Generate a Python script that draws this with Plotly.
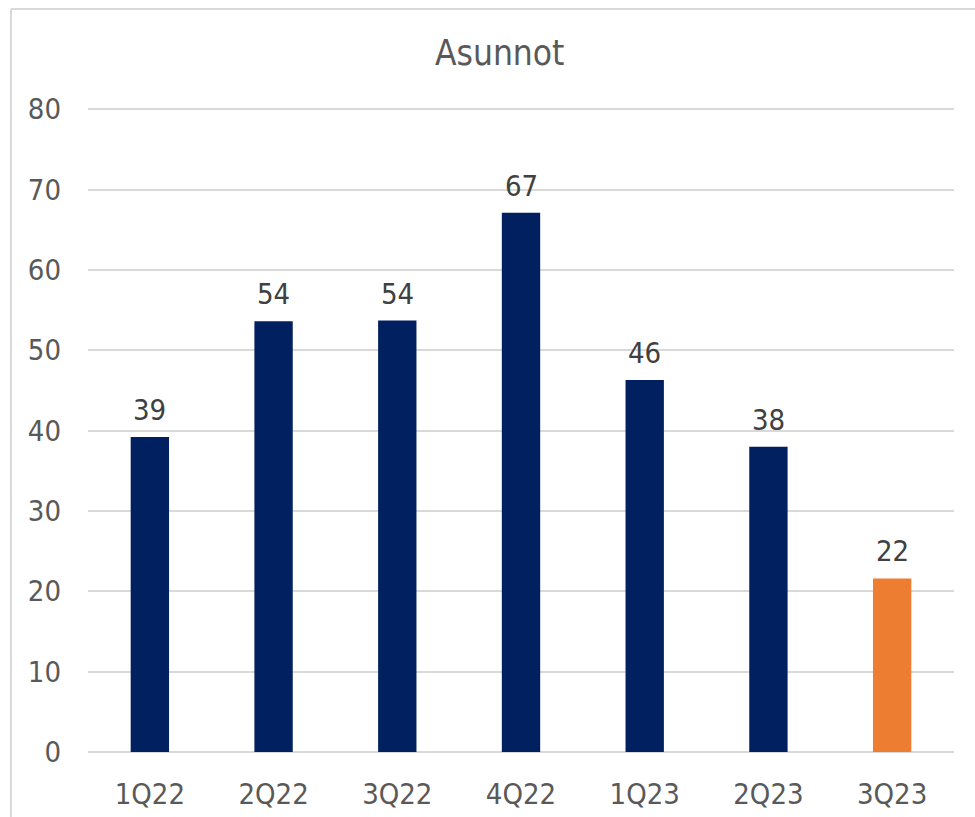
import plotly.graph_objects as go

categories = ["1Q22", "2Q22", "3Q22", "4Q22", "1Q23", "2Q23", "3Q23"]
values = [39.2, 53.6, 53.7, 67.1, 46.3, 38.0, 21.6]
bar_colors = ["#002060"] * 6 + ["#ED7D31"]
y_ticks = [0, 10, 20, 30, 40, 50, 60, 70, 80]
title_text = "Asunnot"

FONT = "DejaVu Sans Condensed, Liberation Sans, sans-serif"

W, H = 975, 817
L, R, T, B = 88, 21, 106, 65
pw, ph = W - L - R, H - T - B

fig = go.Figure()
fig.add_trace(go.Bar(
    x=categories, y=values,
    marker=dict(color=bar_colors, line=dict(width=0)),
    hoverinfo="x+y",
))

for c, v in zip(categories, values):
    fig.add_annotation(
        x=c, y=v, text=f"{v:.0f}", showarrow=False,
        yanchor="bottom", yshift=8,
        font=dict(family=FONT, size=29, color="#404040"),
    )

def px_x(x):
    return (x - L) / pw

def px_y(y):
    return 1 - (y - T) / ph

fig.add_annotation(
    x=px_x(499), y=px_y(53), xref="paper", yref="paper",
    text=title_text, showarrow=False, xanchor="center", yanchor="middle",
    font=dict(family=FONT, size=35, color="#595959"),
)

# chart area border (left and top visible)
fig.add_shape(type="line", xref="paper", yref="paper",
              x0=px_x(11), x1=px_x(11), y0=px_y(830), y1=px_y(9),
              line=dict(color="#d9d9d9", width=2), layer="below")
fig.add_shape(type="line", xref="paper", yref="paper",
              x0=px_x(11), x1=px_x(990), y0=px_y(9), y1=px_y(9),
              line=dict(color="#d9d9d9", width=2), layer="below")

fig.update_layout(
    width=W, height=H,
    margin=dict(l=L, r=R, t=T, b=B, pad=0, autoexpand=False),
    paper_bgcolor="white", plot_bgcolor="white",
    bargap=0.69,
    showlegend=False,
    font=dict(family=FONT, size=29, color="#595959"),
)
fig.update_xaxes(
    showgrid=False, showline=False, zeroline=False, automargin=False,
    tickfont=dict(family=FONT, size=29, color="#595959"),
    ticks="", ticklabelstandoff=22,
)
fig.update_yaxes(
    range=[0, 80.4], tickvals=y_ticks, automargin=False,
    showgrid=True, gridcolor="#d9d9d9", gridwidth=1.6,
    zeroline=True, zerolinecolor="#d9d9d9", zerolinewidth=2.2,
    showline=False, ticks="", ticklabelstandoff=26,
    tickfont=dict(family=FONT, size=29, color="#595959"),
)

fig.write_html("out.html")
